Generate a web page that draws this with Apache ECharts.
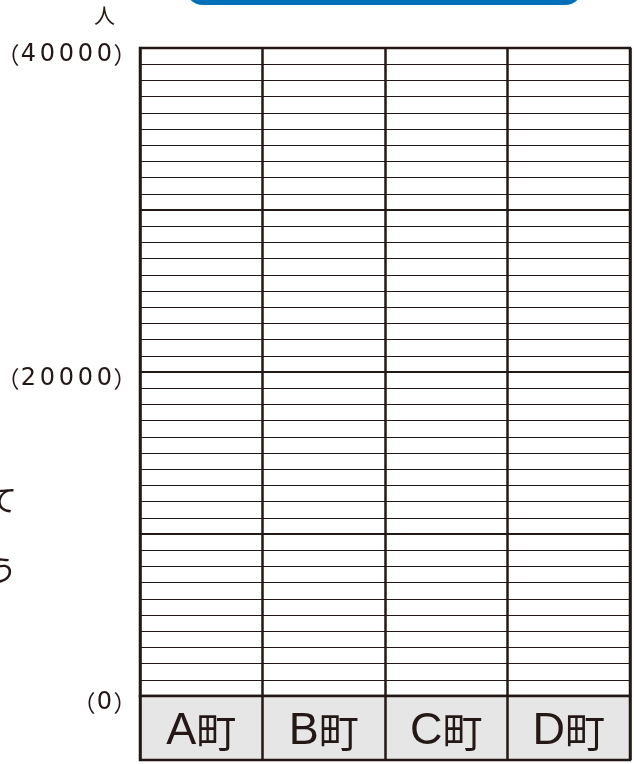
<html>
<head>
<meta charset="utf-8">
<script src="https://cdn.jsdelivr.net/npm/echarts@6/dist/echarts.min.js"></script>
<style>
  body { margin: 0; background: #fff; }
</style>
</head>
<body>
<div id="main" style="width: 634px;height:764px;"></div>

<script type="text/javascript">
    // 町の名前（横軸）
    var towns = ['A町', 'B町', 'C町', 'D町'];
    // 縦軸の目盛り（表示するもの）
    var tickLabels = { 0: '（0）', 20000: '（20000）', 40000: '（40000）' };
    var yMax = 40000;
    // 記入用のグラフなので値はまだ空
    var values = [null, null, null, null];

    var ink = '#231815';
    var font = '"Noto Sans CJK JP", "Noto Sans", sans-serif';
    var latin = '"Liberation Sans", Arial, sans-serif';

    // 目盛りの数字を一文字ずつ幅をそろえて並べる
    function spaced(s) {
        var out = '';
        for (var i = 0; i < s.length; i++) {
            var c = s.charAt(i);
            out += (c === '（' || c === '）') ? '{p|' + c + '}' : '{d|' + c + '}';
        }
        return out;
    }

    var myChart = echarts.init(document.getElementById('main'));

    myChart.setOption({
        animation: false,
        grid: [
            { left: 140, top: 48, width: 490, height: 648, outerBoundsMode: 'none', containLabel: false,
              show: true, borderColor: ink, borderWidth: 2.5, backgroundColor: '#fff' },
            { left: 140, top: 696, width: 490, height: 64, outerBoundsMode: 'none', containLabel: false,
              show: true, borderColor: ink, borderWidth: 2.5, backgroundColor: '#e6e6e6' }
        ],
        xAxis: [
            {
                gridIndex: 0, type: 'category', data: towns,
                axisLine: { show: false }, axisTick: { show: false },
                axisLabel: { show: false },
                splitLine: { show: true, lineStyle: { color: ink, width: 2.5 } }
            },
            {
                gridIndex: 1, type: 'category', data: towns,
                axisLine: { show: false }, axisTick: { show: false },
                axisLabel: {
                    inside: true, margin: 28, verticalAlign: 'middle',
                    formatter: function (v) {
                        return '{a|' + v.charAt(0) + '}{b|' + v.slice(1) + '}';
                    },
                    rich: {
                        a: { color: ink, fontSize: 45, fontFamily: latin, verticalAlign: 'middle' },
                        b: { color: ink, fontSize: 40, fontFamily: font, verticalAlign: 'middle' }
                    }
                },
                splitLine: { show: true, lineStyle: { color: ink, width: 2.5 } }
            }
        ],
        yAxis: [
            {
                gridIndex: 0, type: 'value', min: 0, max: yMax, interval: 10000,
                name: '人', nameLocation: 'end', nameGap: 22,
                nameTextStyle: { color: ink, fontSize: 21, fontFamily: font, align: 'right', padding: [0, 25, 0, 0] },
                axisLine: { show: false }, axisTick: { show: false },
                axisLabel: {
                    margin: 4, padding: [14, 0, 0, 0],
                    formatter: function (v) { return tickLabels[v] ? spaced(tickLabels[v]) : ''; },
                    rich: {
                        p: { color: ink, fontSize: 23, fontFamily: font, width: 22, align: 'center' },
                        d: { color: ink, fontSize: 24, fontFamily: '"DejaVu Sans", sans-serif', width: 19, align: 'center' }
                    }
                },
                splitLine: { show: true, lineStyle: { color: ink, width: 2 } },
                minorTick: { show: false, splitNumber: 10 },
                minorSplitLine: { show: true, lineStyle: { color: ink, width: 1.2 } }
            },
            {
                gridIndex: 1, type: 'value', min: 0, max: 1,
                show: false, splitLine: { show: false }
            }
        ],
        graphic: [
            { type: 'rect', shape: { x: 185, y: -35, width: 398, height: 40, r: 18 },
              style: { fill: '#0070ba' } },
            { type: 'text', x: 17, y: 500,
              style: { text: 'て', fontSize: 30, fontFamily: font, fill: ink, align: 'right', verticalAlign: 'middle' } },
            { type: 'text', x: 17, y: 570,
              style: { text: 'う', fontSize: 30, fontFamily: font, fill: ink, align: 'right', verticalAlign: 'middle' } }
        ],
        series: [{
            type: 'bar', xAxisIndex: 0, yAxisIndex: 0,
            data: values
        }]
    });
</script>
</body>
</html>
